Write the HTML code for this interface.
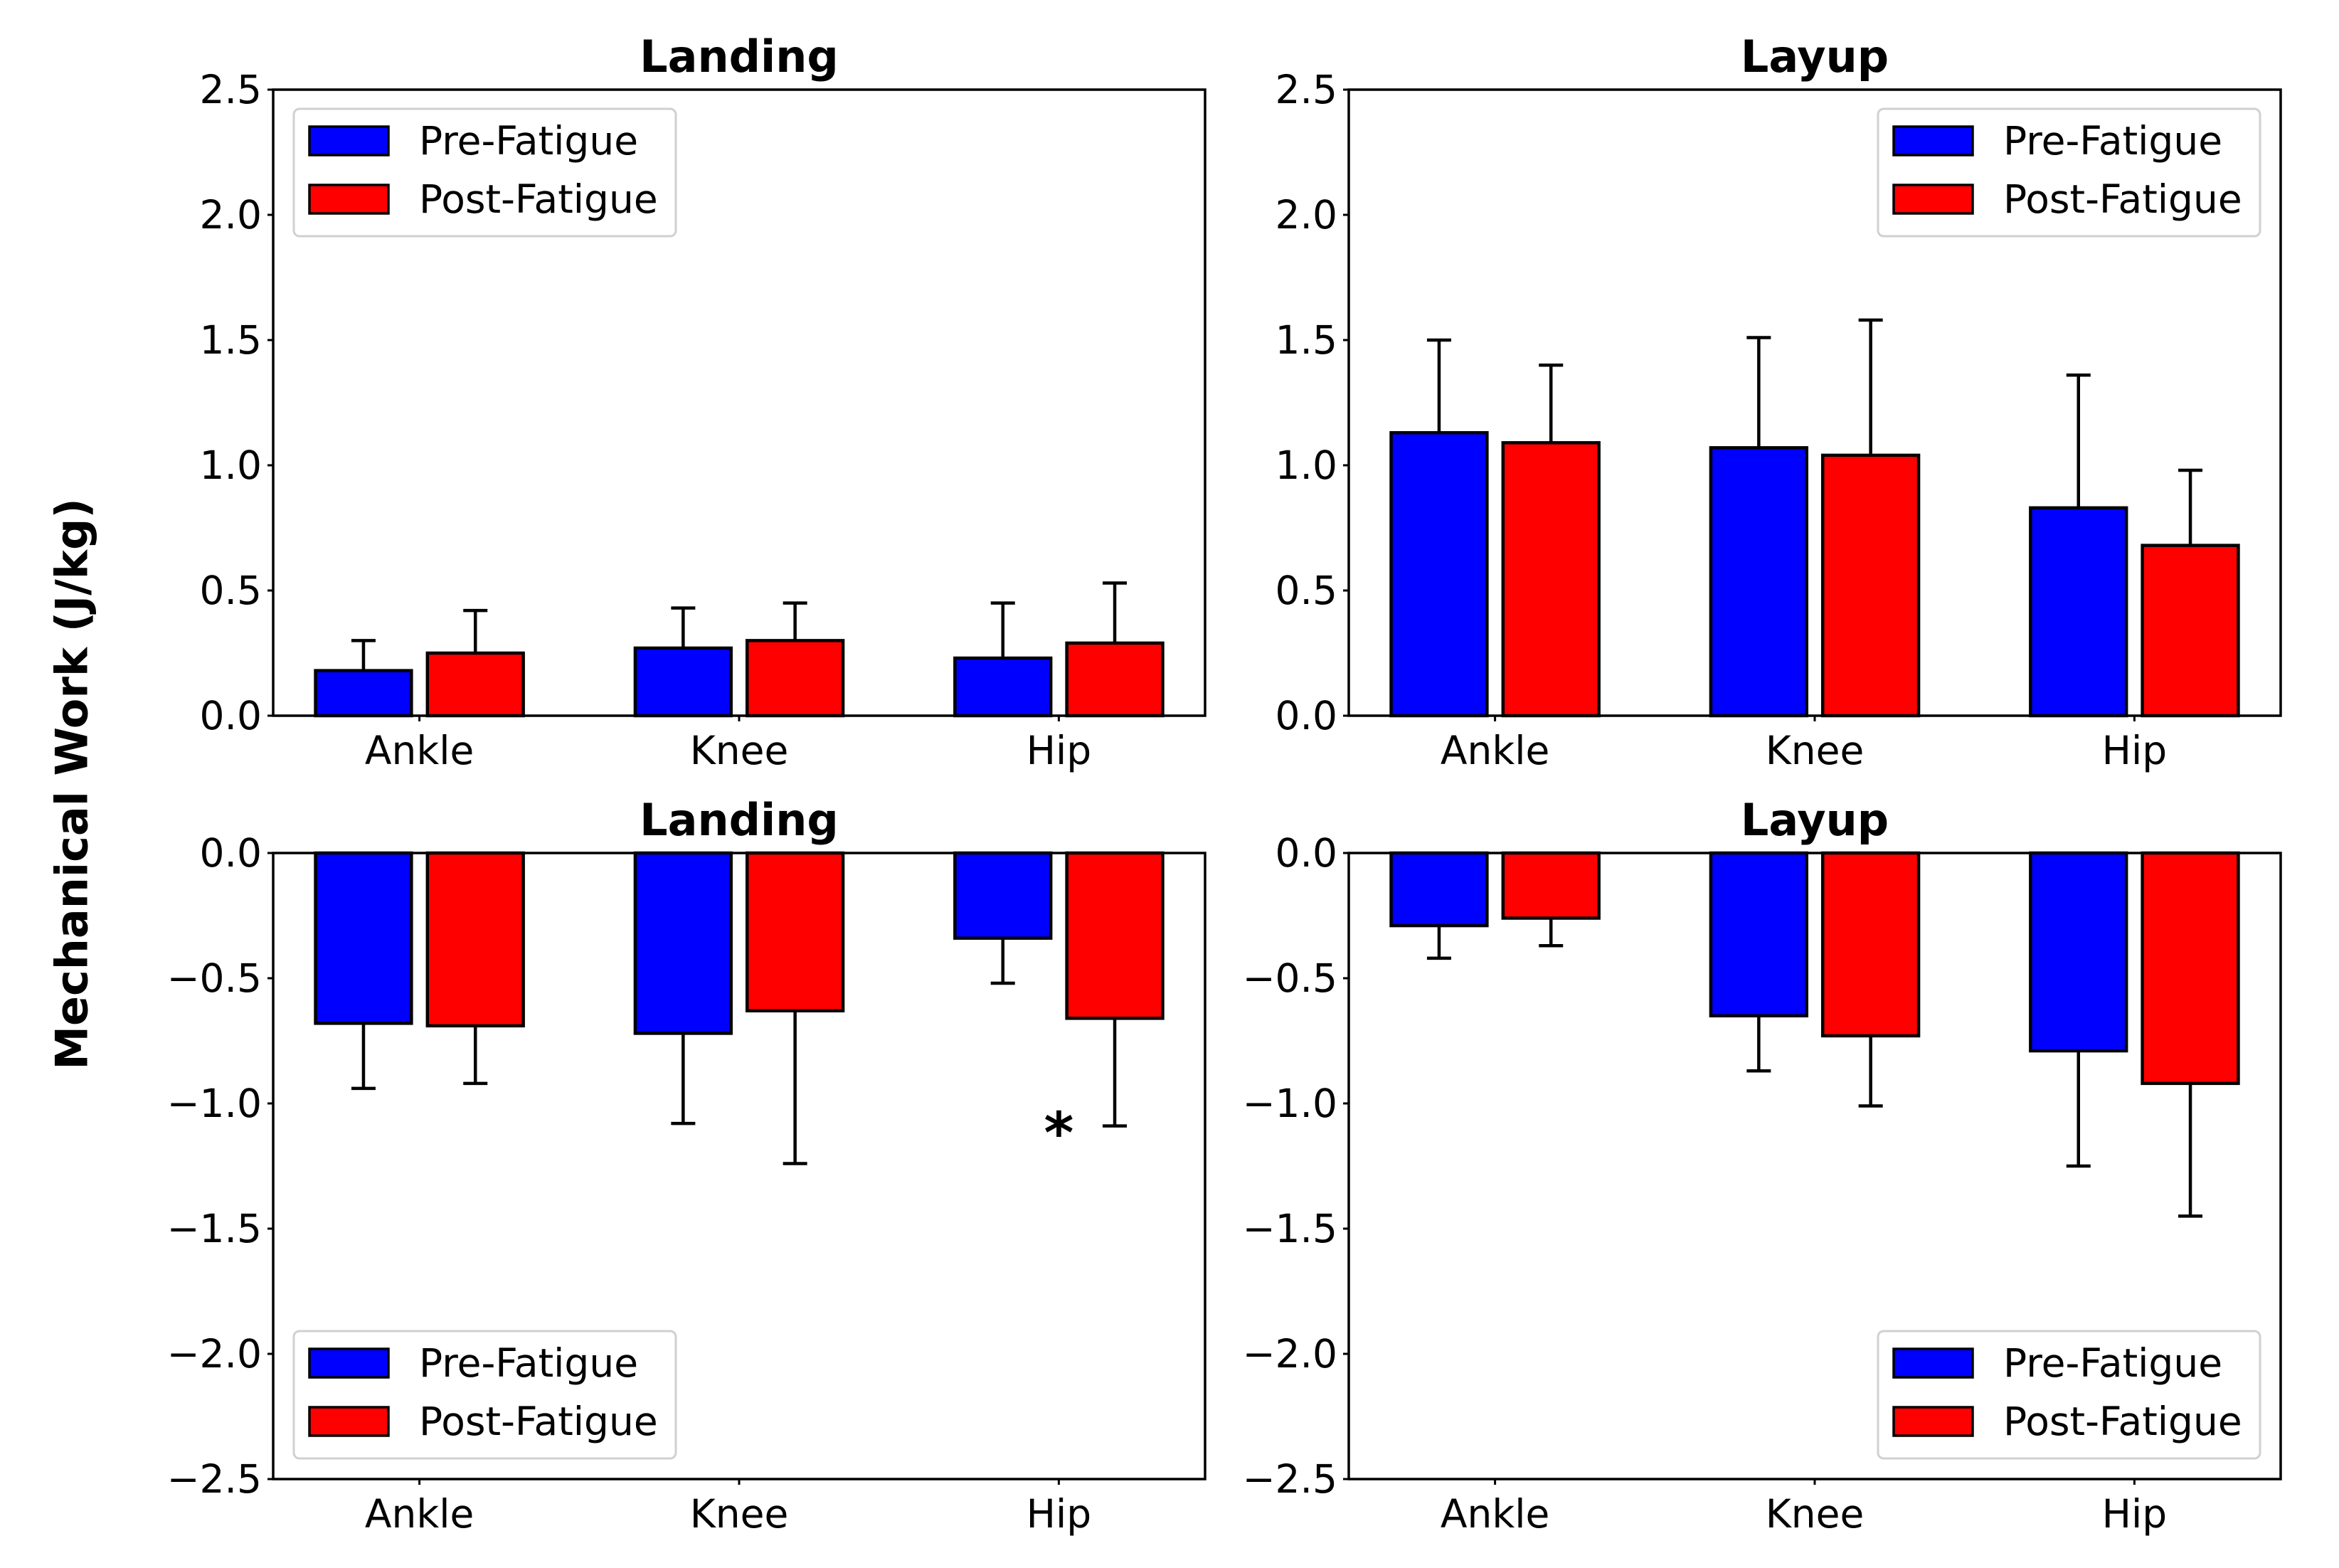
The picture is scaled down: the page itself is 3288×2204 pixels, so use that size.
<!DOCTYPE html>
<html><head><meta charset="utf-8"><style>
html,body{margin:0;padding:0;background:#fff;}
svg{display:block;font-family:"DejaVu Sans","Liberation Sans",sans-serif;}
</style></head><body>
<svg id="fig" width="3288" height="2204" viewBox="0 0 3288 2204">
<text x="101" y="1102" transform="rotate(-90 101 1102)" text-anchor="middle" dominant-baseline="central" font-size="62" font-weight="bold">Mechanical Work (J/kg)</text>
</svg>
<script>
const categories = ["Ankle","Knee","Hip"];
const landingPosPre = [0.18,0.27,0.23], landingPosPreErr = [0.12,0.16,0.22];
const landingPosPost = [0.25,0.30,0.29], landingPosPostErr = [0.17,0.15,0.24];
const layupPosPre = [1.13,1.07,0.83], layupPosPreErr = [0.37,0.44,0.53];
const layupPosPost = [1.09,1.04,0.68], layupPosPostErr = [0.31,0.54,0.30];
const landingNegPre = [-0.68,-0.72,-0.34], landingNegPreErr = [0.26,0.36,0.18];
const landingNegPost = [-0.69,-0.63,-0.66], landingNegPostErr = [0.23,0.61,0.43];
const layupNegPre = [-0.29,-0.65,-0.79], layupNegPreErr = [0.13,0.22,0.46];
const layupNegPost = [-0.26,-0.73,-0.92], layupNegPostErr = [0.11,0.28,0.53];
const posTicks = [0,0.5,1.0,1.5,2.0,2.5];
const negTicks = [0,-0.5,-1.0,-1.5,-2.0,-2.5];

const NS = "http://www.w3.org/2000/svg";
const svg = document.getElementById('fig');
function mk(tag, attrs, parent){ const e=document.createElementNS(NS,tag); for(const k in attrs) e.setAttribute(k,attrs[k]); (parent||svg).appendChild(e); return e; }

function panel(id, x0, y0, title, pre, preErr, post, postErr, ticks, ymin, ymax, legendTop, legendRight){
  const W=1310, H=880;
  const g = mk('g',{});
  
  
  const xmin=-0.4575, xmax=2.4575;
  const sx = v => x0 + (v-xmin)/(xmax-xmin)*W;
  const sy = v => y0 + (ymax-v)/(ymax-ymin)*H;
  const t = mk('text',{x:x0+W/2,y:y0-25,'text-anchor':'middle','font-size':62,'font-weight':'bold'},g);
  t.textContent = title;
  
  
  const series=[[pre,preErr,'#0000ff',-0.175,'pre'],[post,postErr,'#ff0000',0.175,'post']];
  series.forEach(s=>{
    s[0].forEach((v,i)=>{
      const c=i+s[3];
      const xa=sx(c-0.15), xb=sx(c+0.15);
      const ya=sy(Math.max(v,0)), yb=sy(Math.min(v,0));
      const r = mk('rect',{x:xa,y:ya,width:xb-xa,height:yb-ya,fill:s[2],stroke:'#000','stroke-width':4.5},g);
      
      
      const end = v>=0 ? v+s[1][i] : v-s[1][i];
      const xc=sx(c);
      const e1 = mk('line',{x1:xc,x2:xc,y1:sy(v),y2:sy(end),stroke:'#000','stroke-width':4.5},g);
      
      
      mk('line',{x1:xc-17,x2:xc+17,y1:sy(end),y2:sy(end),stroke:'#000','stroke-width':4.5},g);
    });
  });
  mk('rect',{x:x0,y:y0,width:W,height:H,fill:'none',stroke:'#000','stroke-width':3.5},g);
  ticks.forEach(v=>{
    const y=sy(v);
    mk('line',{x1:x0-8,x2:x0,y1:y,y2:y,stroke:'#000','stroke-width':3},g);
    const tl=mk('text',{x:x0-16,y:y,'text-anchor':'end','dominant-baseline':'central','font-size':55},g);
    tl.textContent = (v<0?'\u2212':'')+Math.abs(v).toFixed(1);
    
    
  });
  categories.forEach((c,i)=>{
    const x=sx(i);
    mk('line',{x1:x,x2:x,y1:y0+H,y2:y0+H+8,stroke:'#000','stroke-width':3},g);
    const tl=mk('text',{x:x,y:y0+H+68,'text-anchor':'middle','font-size':55},g);
    tl.textContent=c;
    
    
  });
  const lw=537, lh=179;
  const lx = legendRight ? x0+W-29-lw : x0+29;
  const ly = legendTop ? y0+27 : y0+H-29-lh;
  const lg = mk('g',{},g);
  
  
  mk('rect',{x:lx,y:ly,width:lw,height:lh,rx:8,fill:'#fff','fill-opacity':0.8,stroke:'#d0d0d0','stroke-width':3},lg);
  [['Pre-Fatigue','#0000ff',ly+45],['Post-Fatigue','#ff0000',ly+127]].forEach(e=>{
    mk('rect',{x:lx+22,y:e[2]-20,width:111,height:40,fill:e[1],stroke:'#000','stroke-width':3.5},lg);
    const tt=mk('text',{x:lx+176,y:e[2],'dominant-baseline':'central','font-size':55},lg);
    tt.textContent=e[0];
    
    
  });
  return {sx,sy};
}

panel('landing-positive',384,126,'Landing',landingPosPre,landingPosPreErr,landingPosPost,landingPosPostErr,posTicks,0,2.5,true,false);
panel('layup-positive',1896,126,'Layup',layupPosPre,layupPosPreErr,layupPosPost,layupPosPostErr,posTicks,0,2.5,true,true);
const bl = panel('landing-negative',384,1199,'Landing',landingNegPre,landingNegPreErr,landingNegPost,landingNegPostErr,negTicks,-2.5,0,false,false);
panel('layup-negative',1896,1199,'Layup',layupNegPre,layupNegPreErr,layupNegPost,layupNegPostErr,negTicks,-2.5,0,false,true);
const star = mk('text',{x:bl.sx(2),y:bl.sy(-1.12),'text-anchor':'middle','dominant-baseline':'central','font-size':80,'font-weight':'bold'});
star.textContent='*';


</script>
</body></html>
